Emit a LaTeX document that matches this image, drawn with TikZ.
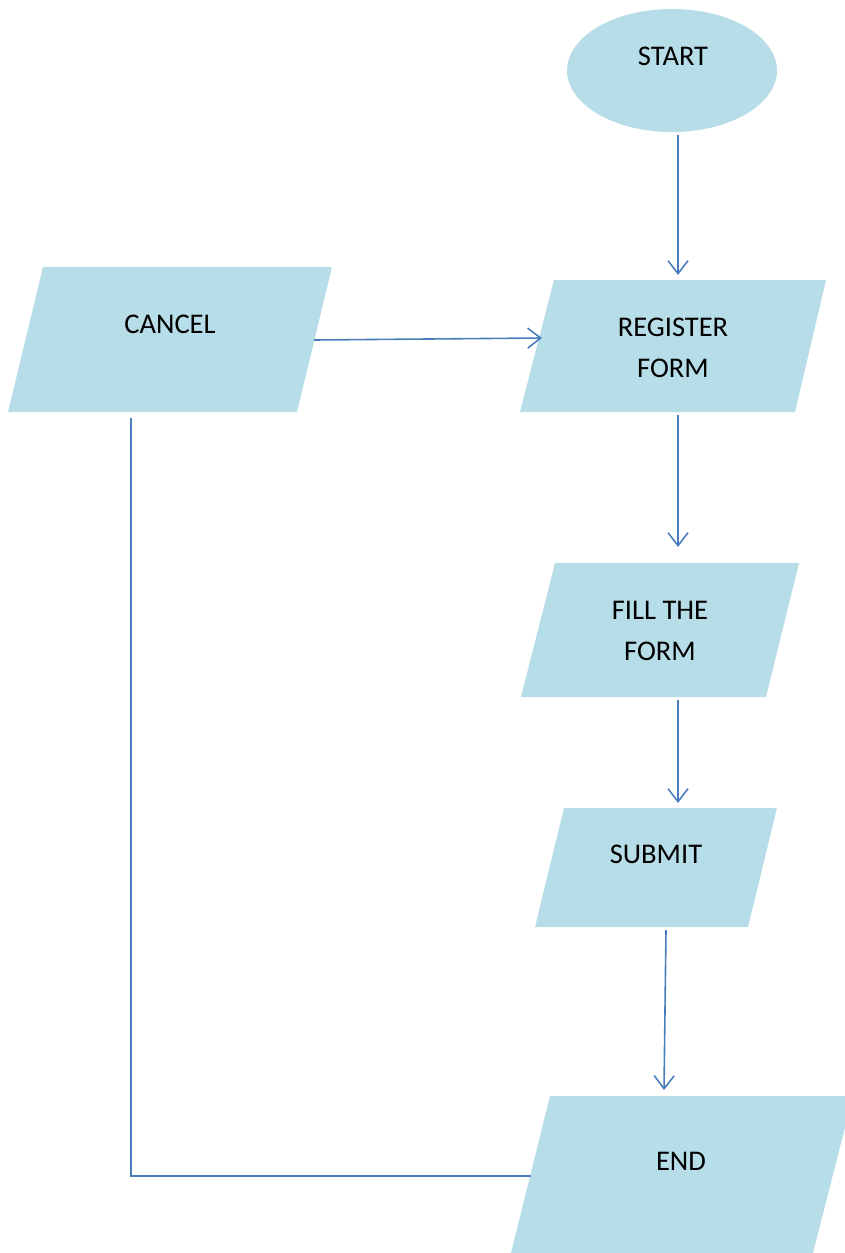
\documentclass[tikz,border=0pt]{standalone}
\usepackage{fontspec}
\setmainfont{Carlito}
\usetikzlibrary{arrows.meta,shapes.geometric}
\definecolor{shapefill}{HTML}{B7DDE8}
\definecolor{linecol}{HTML}{4A7EBB}
\begin{document}
\begin{tikzpicture}[x=1pt,y=-1pt,
  shp/.style={fill=shapefill, draw=none},
  lbl/.style={font=\fontsize{28.5}{42}\selectfont, anchor=base, inner sep=0pt, text=black},
  conn/.style={draw=linecol, line width=1.6pt},
  arr/.style={conn, -{Straight Barb[length=13pt,width=20pt,line width=1.6pt]}}]
\useasboundingbox (0,0) rectangle (844,1253);
% shapes
\node[ellipse, shp, minimum width=210pt, minimum height=123pt, inner sep=0pt] (start) at (672,70.5) {};
\path[shp] (43,267) -- (332,267) -- (297,412) -- (8,412) -- cycle;
\path[shp] (554,280) -- (826,280) -- (795,412) -- (520,412) -- cycle;
\path[shp] (555,563) -- (799,563) -- (766,697) -- (521,697) -- cycle;
\path[shp] (564,808) -- (777,808) -- (748,927) -- (535,927) -- cycle;
\path[shp] (550,1096) -- (853,1096) -- (813,1253) -- (511,1253) -- cycle;
% labels
\node[lbl] (tstart) at (673,65) {START};
\node[lbl] (tcancel) at (170,333) {CANCEL};
\node[lbl] (treg1) at (673,336) {REGISTER};
\node[lbl] (treg2) at (673,377) {FORM};
\node[lbl] (tfill1) at (660,619) {FILL THE};
\node[lbl] (tfill2) at (660,660) {FORM};
\node[lbl] (tsubmit) at (656,863) {SUBMIT};
\node[lbl] (tend) at (681,1170) {END};
% connector end points
\coordinate (startB) at (678,135);
\coordinate (regT) at (678,275);
\coordinate (cancelR) at (314,340);
\coordinate (regL) at (542,338);
\coordinate (regB) at (678,415);
\coordinate (fillT) at (678,547);
\coordinate (fillB) at (678,700);
\coordinate (subT) at (678,803);
\coordinate (subB) at (666,930);
\coordinate (endT) at (664,1090);
\coordinate (cancelB) at (131,418);
\coordinate (corner) at (131,1176);
\coordinate (endL) at (531,1176);
% connectors
\draw[arr] (startB) -- (regT);
\draw[arr] (cancelR) -- (regL);
\draw[arr] (regB) -- (fillT);
\draw[arr] (fillB) -- (subT);
\draw[arr] (subB) -- (endT);
\draw[conn] (cancelB) -- (corner) -- (endL);
\end{tikzpicture}
\end{document}
